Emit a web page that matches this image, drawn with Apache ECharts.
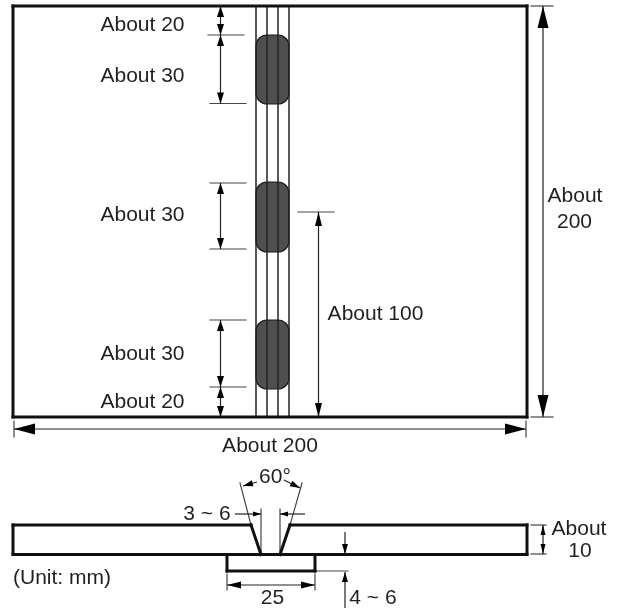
<!DOCTYPE html>
<html><head><meta charset="utf-8">
<style>html,body{margin:0;padding:0;background:#fff}#c{width:622px;height:610px}</style>
<script src="https://cdn.jsdelivr.net/npm/echarts@6/dist/echarts.min.js"></script>
</head><body><div id="c"></div>
<script>
// plate outlines: [x1,y1,x2,y2]
const thickSegments = [
  [13,6,527,6],[527,6,527,417],[527,417,13,417],[13,417,13,6],
  [13,525,251,525],[13,525,13,554],[13,554.5,527,554.5],[290,525,527,525],[527,525,527,554],
  [251,525,261,554.5],[290,525,280,554.5],
  [227,555,227,571],[227,571,315,571],[315,571,315,555]
];
// bead centre lines and groove lines
const bevelLines = [[256,6,256,417],[267,6,267,417],[278,6,278,417],[289,6,289,417]];
// weld tacks: [x1,y1,x2,y2]
const tacks = [[256,35,289,104],[256,182,289,252],[256,320,289,389]];
// extension lines: [x1,y1,x2,y2]
const extensionLines = [
  [208,35,244,35],[210,103.5,246,103.5],[210,183,246,183],[210,249,246,249],[210,320,246,320],[210,387,246,387],
  [298,212,334,212],[531,6,553,6],[531,417,553,417],[14,421,14,437],[526,421,526,437],
  [240,483,251,525],[302,483,290,525],[261,509,261,555],[280,509,280,555],
  [227,574,227,590],[315,574,315,590],[317,571,348,571],[531,525,546,525],[531,554,546,554]
];
// dimension arrows: [x1,y1,x2,y2,headLength,headWidth,bothEnds]
const dimensionArrows = [
  [220.5,6,220.5,35,11,7,1],[220.5,35,220.5,103.5,11,7,1],[220.5,183,220.5,249,11,7,1],
  [220.5,320,220.5,387,11,7,1],[220.5,387,220.5,417,11,7,1],
  [318.5,212,318.5,417,14,7,1],[543,6,543,417,22,11,1],[14,429,526,429,21,11,1],
  [227,585,315,585,14,7,1],[543,525,543,554,10,5,1],
  [235,514,261,514,8,5,0],[305,514,280,514,8,5,0],
  [257,482,243,486,10,6,0],[284,480,300,488,10,6,0],
  [345,532,345,554,10,6,0],[345,608,345,572,10,6,0]
];
// labels: [x,y,text,align]
const labels = [
  [142.5,25,'About 20','center'],[142.5,76,'About 30','center'],[142.5,215,'About 30','center'],
  [142.5,354,'About 30','center'],[142.5,402,'About 20','center'],[375.5,314,'About 100','center'],
  [575,196,'About','center'],[574.5,222,'200','center'],[270,446,'About 200','center'],
  [275,477,'60°','center'],[207,514,'3 ~ 6','center'],[579,529,'About','center'],[580,551,'10','center'],
  [13,578,'(Unit: mm)','left'],[272.5,598,'25','center'],[373,598,'4 ~ 6','center']
];
const ink = '#111111', textInk = '#231f20';

function segSeries(rows, width, color, z){
  return {type:'custom', coordinateSystem:'cartesian2d', z, clip:false, data:rows, encode:{x:0,y:1},
    renderItem(p,api){
      const a=api.coord([api.value(0),api.value(1)]), b=api.coord([api.value(2),api.value(3)]);
      return {type:'line', shape:{x1:a[0],y1:a[1],x2:b[0],y2:b[1]}, style:{stroke:color,lineWidth:width,lineCap:'square'}};
    }};
}
function head(t,f,L,W){
  const dx=f[0]-t[0], dy=f[1]-t[1], n=Math.hypot(dx,dy)||1, ux=dx/n, uy=dy/n;
  const bx=t[0]+ux*L, by=t[1]+uy*L;
  return {type:'polygon', shape:{points:[t,[bx-uy*W/2,by+ux*W/2],[bx+uy*W/2,by-ux*W/2]]}, style:{fill:'#000'}};
}
const option = {
  animation:false, backgroundColor:'#fff',
  grid:{left:0,right:0,top:0,bottom:0},
  xAxis:{type:'value',min:0,max:622,show:false},
  yAxis:{type:'value',min:0,max:610,inverse:true,show:false},
  series:[
    {type:'custom',coordinateSystem:'cartesian2d',z:2,clip:false,data:tacks,encode:{x:0,y:1},
      renderItem(p,api){
        const a=api.coord([api.value(0),api.value(1)]), b=api.coord([api.value(2),api.value(3)]);
        return {type:'rect',shape:{x:a[0],y:a[1],width:b[0]-a[0],height:b[1]-a[1],r:11},style:{fill:'#4f4f4f',stroke:'#1a1a1a',lineWidth:1.2}};
      }},
    segSeries(bevelLines,1.5,'#222222',3),
    segSeries(thickSegments,3,ink,4),
    segSeries(extensionLines,1.2,'#444444',3),
    {type:'custom',coordinateSystem:'cartesian2d',z:5,clip:false,data:dimensionArrows,encode:{x:0,y:1},
      renderItem(p,api){
        const a=api.coord([api.value(0),api.value(1)]), b=api.coord([api.value(2),api.value(3)]);
        const L=api.value(4), W=api.value(5), both=api.value(6);
        const kids=[{type:'line',shape:{x1:a[0],y1:a[1],x2:b[0],y2:b[1]},style:{stroke:'#222',lineWidth:1.2}},head(b,a,L,W)];
        if(both) kids.push(head(a,b,L,W));
        return {type:'group',children:kids};
      }},
    {type:'custom',coordinateSystem:'cartesian2d',z:6,clip:false,data:labels.map(r=>[r[0],r[1]]),encode:{x:0,y:1},
      renderItem(p,api){
        const a=api.coord([api.value(0),api.value(1)]), r=labels[p.dataIndex];
        return {type:'text',style:{x:a[0],y:a[1],text:r[2],align:r[3],verticalAlign:'middle',
          font:'21px "Liberation Sans", Arial, sans-serif',fill:textInk}};
      }}
  ]
};
echarts.init(document.getElementById('c'),null,{renderer:'canvas'}).setOption(option);
</script></body></html>
